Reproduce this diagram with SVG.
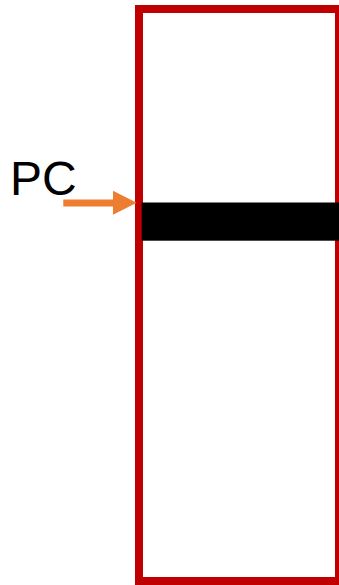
<svg xmlns="http://www.w3.org/2000/svg" width="339" height="585" viewBox="0 0 339 585">
<style>
.lbl{font-family:"Liberation Sans",Arial,sans-serif;font-size:48px;fill:#000}
</style>
<rect width="339" height="585" fill="#fff"/>
<g id="memory">
<rect x="139" y="9" width="200" height="572" fill="none" stroke="#C00000" stroke-width="8"/>
</g>
<g id="current-row">
<rect x="141.7" y="202.5" width="197.3" height="38.2" fill="#000"/>
</g>
<g id="pc-label">
<text class="lbl" x="10" y="194.5">PC</text>
</g>
<g id="connectors">
<polygon points="63.3,199.5 113,199.5 113,190.7 136.7,202.7 113,214.7 113,206.5 63.3,206.5" fill="#ED7D31"/>
</g>
</svg>
